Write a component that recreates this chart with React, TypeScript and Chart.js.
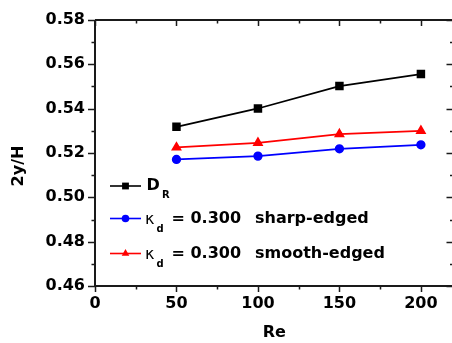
import React, { useEffect, useRef } from "react";
import { Chart, registerables } from "chart.js";

Chart.register(...registerables);

const reValues = [50, 100, 150, 200];
const dR = [0.5318, 0.5401, 0.5502, 0.5556];
const sharpEdged = [0.5171, 0.5186, 0.5219, 0.5237];
const smoothEdged = [0.5225, 0.5246, 0.5285, 0.53];

const xTickValues = [0, 50, 100, 150, 200];
const yTickValues = [0.46, 0.48, 0.5, 0.52, 0.54, 0.56, 0.58];

const xMin = 0;
const xMax = 220;
const yMin = 0.46;
const yMax = 0.58;
const xTitle = "Re";
const yTitle = "2y/H";

const FONT = "'DejaVu Sans', sans-serif";
const AXIS_COLOR = "#1a1a1a";

function drawMarker(ctx: CanvasRenderingContext2D, style: string, x: number, y: number, color: string) {
  ctx.save();
  ctx.fillStyle = color;
  ctx.beginPath();
  if (style === "rect") {
    ctx.rect(x - 3.4, y - 3.4, 6.8, 6.8);
  } else if (style === "circle") {
    ctx.arc(x, y, 3.8, 0, Math.PI * 2);
  } else {
    const r = 4.4;
    ctx.moveTo(x, y - r);
    ctx.lineTo(x + r * Math.sin(Math.PI / 3), y + r * 0.5);
    ctx.lineTo(x - r * Math.sin(Math.PI / 3), y + r * 0.5);
    ctx.closePath();
  }
  ctx.fill();
  ctx.restore();
}

const framePlugin = {
  id: "frameTicks",
  afterDatasetsDraw(chart: any) {
    const { ctx } = chart;
    const xs = chart.scales.x;
    const ys = chart.scales.y;
    const left = xs.getPixelForValue(xMin);
    const right = xs.getPixelForValue(xMax);
    const top = ys.getPixelForValue(yMax);
    const bottom = ys.getPixelForValue(yMin);
    ctx.save();
    ctx.strokeStyle = AXIS_COLOR;
    ctx.lineWidth = 2;
    ctx.beginPath();
    ctx.moveTo(left, top);
    ctx.lineTo(right, top);
    ctx.moveTo(right, top);
    ctx.lineTo(right, bottom);
    ctx.moveTo(left, bottom);
    ctx.lineTo(right, bottom);
    ctx.moveTo(left, top);
    ctx.lineTo(left, bottom);
    ctx.stroke();
    ctx.lineWidth = 1.5;
    ctx.beginPath();
    for (let v = xMin; v <= xMax; v += 25) {
      const px = Math.round(xs.getPixelForValue(v)) + 0.5;
      const len = v % 50 === 0 ? 6 : 3.5;
      ctx.moveTo(px, bottom);
      ctx.lineTo(px, bottom + len);
      ctx.moveTo(px, top);
      ctx.lineTo(px, top + len);
    }
    for (let i = 0; i <= 12; i++) {
      const v = yMin + i * 0.01;
      const py = Math.round(ys.getPixelForValue(v)) + 0.5;
      const len = i % 2 === 0 ? 7 : 3.5;
      ctx.moveTo(left - len, py);
      ctx.lineTo(left, py);
      ctx.moveTo(right - len, py);
      ctx.lineTo(right, py);
    }
    ctx.stroke();
    ctx.restore();
  },
  afterDraw(chart: any) {
    const { ctx, chartArea } = chart;
    const { left, right, top } = chartArea;
    ctx.save();
    ctx.fillStyle = "#000";
    ctx.font = `bold 16px ${FONT}`;
    ctx.textAlign = "center";
    ctx.textBaseline = "middle";
    ctx.fillText(xTitle, (left + right) / 2, 333);
    ctx.save();
    ctx.translate(19, 166);
    ctx.rotate(-Math.PI / 2);
    ctx.fillText(yTitle, 0, 0);
    ctx.restore();

    // legend
    const rows = [
      { ds: 0, y: top + 166, style: "rect" },
      { ds: 1, y: top + 198.5, style: "circle" },
      { ds: 2, y: top + 233.5, style: "triangle" },
    ];
    rows.forEach((r) => {
      const ds = chart.data.datasets[r.ds];
      const c = ds.borderColor;
      ctx.strokeStyle = c;
      ctx.lineWidth = 1.6;
      ctx.beginPath();
      ctx.moveTo(left + 15, r.y);
      ctx.lineTo(left + 46, r.y);
      ctx.stroke();
      drawMarker(ctx, r.style, left + 30.5, r.y, c);
    });
    ctx.fillStyle = "#000";
    ctx.textAlign = "left";
    ctx.textBaseline = "middle";
    ctx.font = `bold 16px ${FONT}`;
    ctx.fillText("D", left + 51.5, rows[0].y);
    ctx.font = `bold 10px ${FONT}`;
    ctx.fillText("R", left + 67, rows[0].y + 9.5);
    const labels2 = ["sharp-edged", "smooth-edged"];
    [1, 2].forEach((k, i) => {
      const y = rows[k].y;
      ctx.font = `16px ${FONT}`;
      ctx.fillText("κ", left + 50, y + 1);
      ctx.font = `bold 10px ${FONT}`;
      ctx.fillText("d", left + 61.5, y + 10.5);
      ctx.font = `bold 16px ${FONT}`;
      ctx.fillText("= 0.300", left + 76.5, y);
      ctx.fillText(labels2[i], left + 160, y);
    });
    ctx.restore();
  },
};

export default function App() {
  const canvasRef = useRef<HTMLCanvasElement | null>(null);

  useEffect(() => {
    const canvas = canvasRef.current;
    if (!canvas) return;
    const mk = (arr: number[]) => reValues.map((x, i) => ({ x, y: arr[i] }));
    const chart = new Chart(canvas, {
      type: "line",
      data: {
        datasets: [
          {
            label: "DR",
            data: mk(dR),
            borderColor: "#000000",
            backgroundColor: "#000000",
            pointStyle: "rect",
            pointRadius: 4.8,
            borderWidth: 1.7,
          },
          {
            label: "sharp",
            data: mk(sharpEdged),
            borderColor: "#0000ff",
            backgroundColor: "#0000ff",
            pointStyle: "circle",
            pointRadius: 3.8,
            borderWidth: 1.7,
          },
          {
            label: "smooth",
            data: mk(smoothEdged),
            borderColor: "#ff0000",
            backgroundColor: "#ff0000",
            pointStyle: "triangle",
            pointRadius: 4.6,
            borderWidth: 1.7,
          },
        ],
      },
      options: {
        animation: false,
        responsive: false,
        devicePixelRatio: 1,
        layout: { padding: { top: 20, right: 5.5, bottom: 0, left: 0 } },
        plugins: { legend: { display: false }, tooltip: { enabled: false } },
        scales: {
          x: {
            type: "linear",
            min: xMin,
            max: xMax,
            grid: { display: false, drawTicks: false },
            border: { display: false },
            ticks: {
              padding: 8,
              color: "#000",
              font: { family: FONT, size: 16, weight: "bold" },
              maxRotation: 0,
              autoSkip: false,
              callback: (v: any) => String(v),
            },
            afterBuildTicks: (s: any) => {
              s.ticks = xTickValues.map((v) => ({ value: v }));
            },
            afterFit: (s: any) => {
              s.height = 57;
            },
          },
          y: {
            type: "linear",
            min: yMin,
            max: yMax,
            grid: { display: false, drawTicks: false },
            border: { display: false },
            ticks: {
              padding: 10,
              color: "#000",
              autoSkip: false,
              font: { family: FONT, size: 16, weight: "bold" },
              callback: (v: any) => Number(v).toFixed(2),
            },
            afterBuildTicks: (s: any) => {
              s.ticks = yTickValues.map((v) => ({ value: v }));
            },
            afterFit: (s: any) => {
              s.width = 95;
            },
          },
        },
      },
      plugins: [framePlugin],
    });
    return () => chart.destroy();
  }, []);

  return (
    <div style={{ position: "fixed", left: 0, top: 0, width: 452, height: 343, overflow: "hidden", background: "#fff" }}>
      <canvas ref={canvasRef} width={460} height={343} style={{ display: "block", width: 460, height: 343 }} />
    </div>
  );
}
